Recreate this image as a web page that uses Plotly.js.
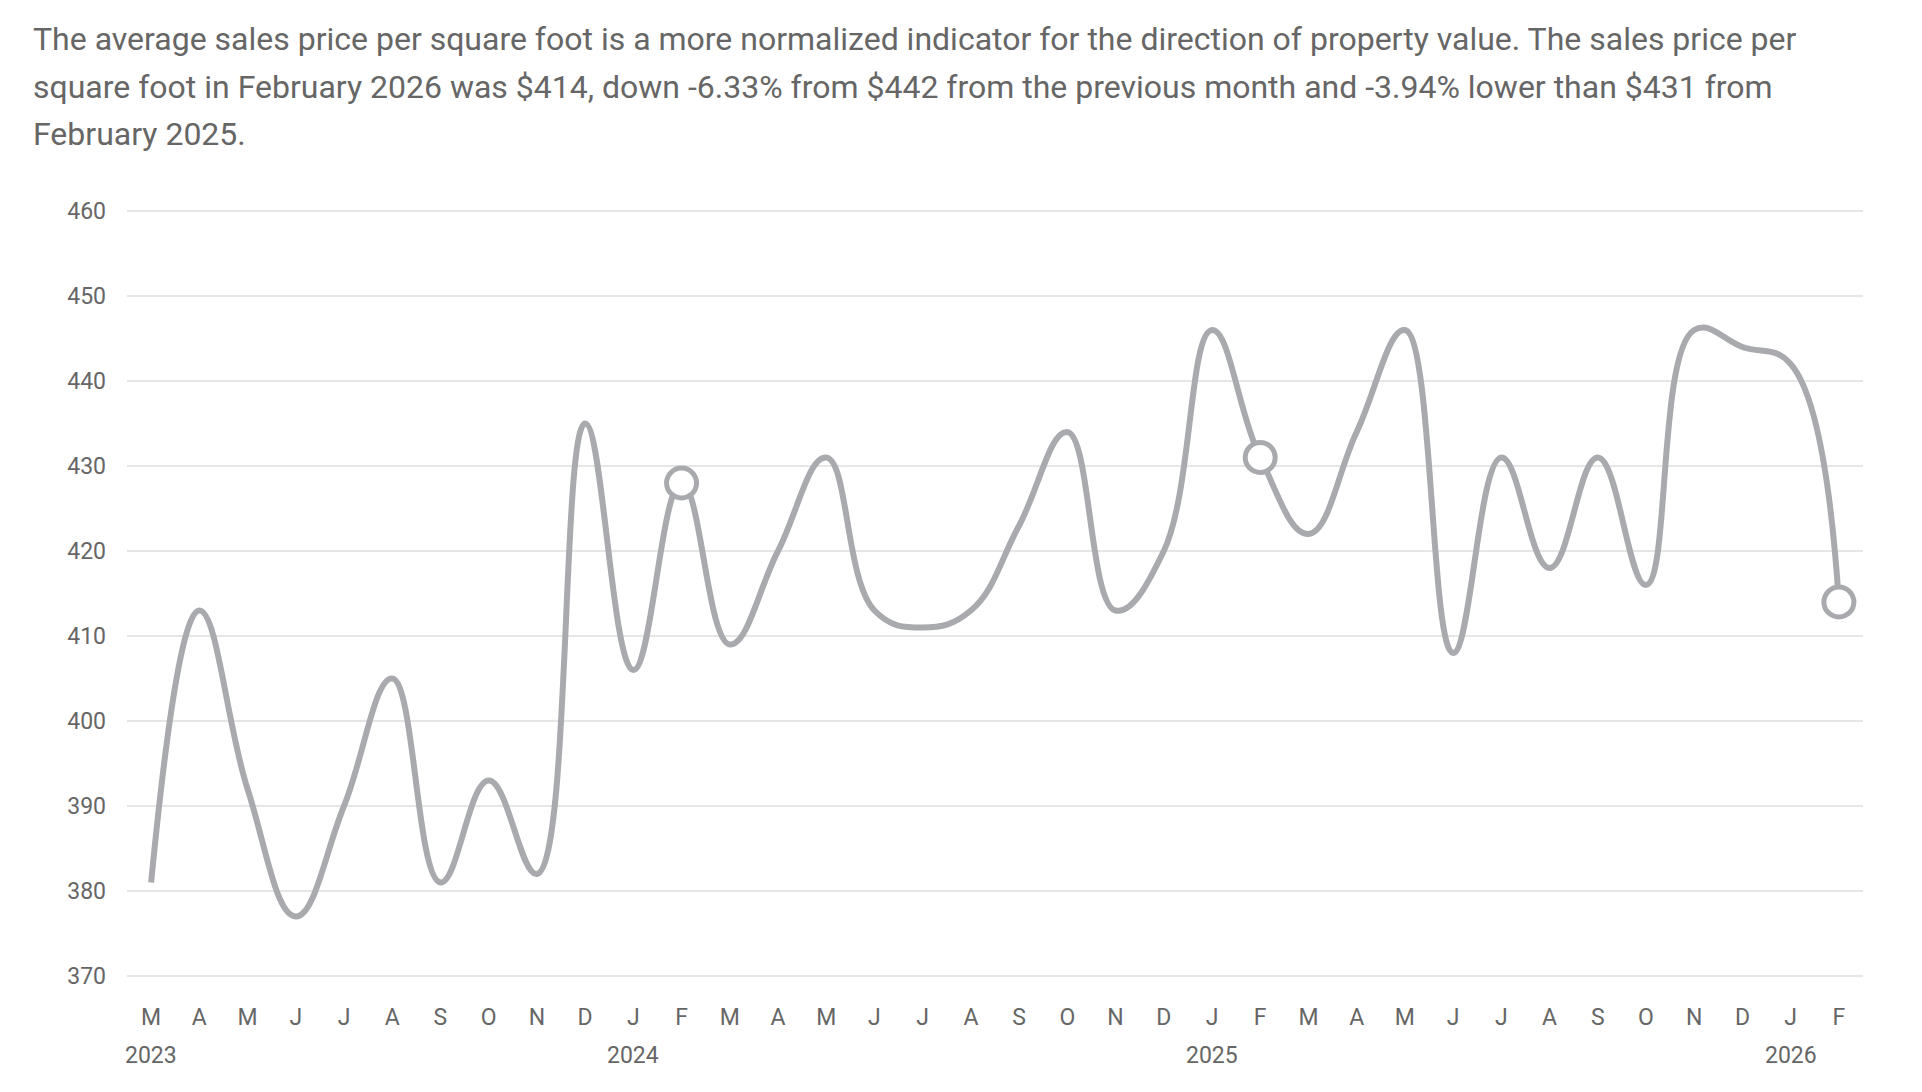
<!DOCTYPE html>
<html>
<head>
<meta charset="utf-8">
<script src="https://cdn.plot.ly/plotly-3.0.1.min.js"></script>
<style>
  html, body { margin: 0; padding: 0; background: #ffffff; }
  #chart { width: 1922px; height: 1092px; }
</style>
</head>
<body>
<div id="chart"></div>
<script>
// ---- data ----
const periods = ['2023-03','2023-04','2023-05','2023-06','2023-07','2023-08','2023-09','2023-10','2023-11','2023-12',
                 '2024-01','2024-02','2024-03','2024-04','2024-05','2024-06','2024-07','2024-08','2024-09','2024-10','2024-11','2024-12',
                 '2025-01','2025-02','2025-03','2025-04','2025-05','2025-06','2025-07','2025-08','2025-09','2025-10','2025-11','2025-12',
                 '2026-01','2026-02'];
const pricePerSqFt = [381, 413, 392, 377, 390, 405, 381, 393, 382, 435,
                      406, 428, 409, 420, 431, 413, 411, 413, 423, 434, 413, 420,
                      446, 431, 422, 434, 446, 408, 431, 418, 431, 416, 446, 444,
                      442, 414];
const monthLetters = ['J','F','M','A','M','J','J','A','S','O','N','D'];
const yTicks = [370, 380, 390, 400, 410, 420, 430, 440, 450, 460];
const introLines = [
  'The average sales price per square foot is a more normalized indicator for the direction of property value. The sales price per',
  'square foot in February 2026 was $414, down -6.33% from $442 from the previous month and -3.94% lower than $431 from',
  'February 2025.'
];

// ---- derived ----
const idx = periods.map((p, i) => i);
const tickText = periods.map(p => monthLetters[parseInt(p.slice(5, 7), 10) - 1]);
const yearIdx = idx.filter(i => i === 0 || periods[i].slice(5, 7) === '01');
const febIdx = idx.filter(i => periods[i].slice(5, 7) === '02');

const LINE = '#a9aaae';
const TEXT = '#666666';
const FONT = 'Roboto, "Open Sans", Arial, sans-serif';

const traces = [
  {
    x: idx, y: pricePerSqFt, type: 'scatter', mode: 'lines',
    line: { color: LINE, width: 6, shape: 'spline', smoothing: 1.2 },
    hoverinfo: 'skip', showlegend: false
  },
  {
    x: febIdx, y: febIdx.map(i => pricePerSqFt[i]), type: 'scatter', mode: 'markers',
    marker: { size: 30, color: '#ffffff', line: { color: LINE, width: 5 } },
    hoverinfo: 'skip', showlegend: false, cliponaxis: false
  }
];

const annotations = [];
yearIdx.forEach(i => {
  annotations.push({
    x: i, y: 0, xref: 'x', yref: 'paper', yanchor: 'middle', xanchor: 'center',
    yshift: -77, text: periods[i].slice(0, 4), showarrow: false,
    font: { family: FONT, size: 23, color: TEXT }
  });
});
const lineShifts = [170, 122, 75];
introLines.forEach((t, k) => {
  annotations.push({
    x: 0, y: 1, xref: 'paper', yref: 'paper', xanchor: 'left', yanchor: 'middle',
    xshift: -96, yshift: lineShifts[k], text: t, showarrow: false, align: 'left',
    font: { family: FONT, size: 32, color: TEXT }
  });
});

const layout = {
  width: 1922, height: 1092,
  margin: { l: 127, r: 59, t: 209, b: 114, pad: 0 },
  paper_bgcolor: '#ffffff', plot_bgcolor: '#ffffff',
  showlegend: false,
  font: { family: FONT, color: TEXT },
  xaxis: {
    range: [-0.5, periods.length - 0.5],
    tickvals: idx, ticktext: tickText,
    showgrid: false, zeroline: false, showline: false,
    ticks: '', ticklabelstandoff: 23,
    tickfont: { family: FONT, size: 23, color: TEXT },
    fixedrange: true
  },
  yaxis: {
    range: [369.765, 460.235],
    tickvals: yTicks,
    showgrid: true, gridcolor: '#e6e6e6', gridwidth: 1.6,
    zeroline: false, showline: false,
    ticks: '', ticklabelstandoff: 20,
    tickfont: { family: FONT, size: 23, color: TEXT },
    fixedrange: true
  },
  annotations: annotations
};

Plotly.newPlot('chart', traces, layout, { displayModeBar: false, staticPlot: true });
</script>
</body>
</html>
